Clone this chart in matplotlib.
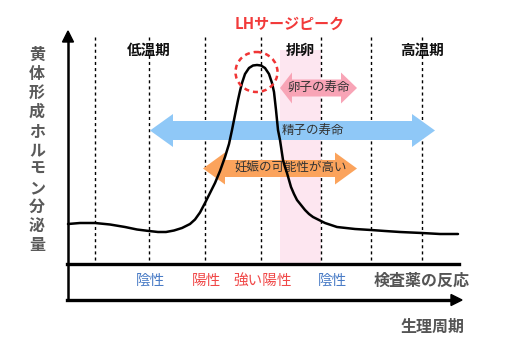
import matplotlib
matplotlib.use("Agg")
import matplotlib.pyplot as plt
from matplotlib.patches import Polygon, Rectangle, Ellipse

plt.rcParams['font.family'] = ['Noto Sans CJK JP', 'DejaVu Sans']

# ---------------- data (figure pixel units) ----------------
curve_x = [68, 80, 95, 110, 125, 137, 149, 158, 166, 174, 182, 190, 195, 200, 205, 210, 215,
           220, 225, 229, 232, 235, 238, 240, 242, 245, 249, 253, 257, 261, 265, 269, 272,
           274, 276, 278, 280, 283, 285, 287, 289, 291, 294, 297, 301, 305, 309, 313, 319,
           325, 331, 337, 346, 355, 371, 385, 400, 422, 440, 458]
curve_y = [224, 223, 223, 224.5, 227, 229.5, 231, 232, 232, 230.5, 228, 224, 219.5, 212.5,
           203, 193, 183, 171, 157, 144, 130, 115, 100, 91, 83, 74, 68, 65.5, 65, 65.5, 68,
           74, 83, 92, 110, 130, 140, 160, 167, 173, 180, 187, 194, 200, 205, 210, 214, 217,
           220, 223, 225, 227, 228, 229, 230, 231, 232, 233, 234, 234]

divider_x = [95, 149, 205, 261, 321, 371, 422]

phase_labels = ['低温期', '排卵', '高温期']
phase_x = [149, 300, 422]

arrow_labels = ['卵子の寿命', '精子の寿命', '妊娠の可能性が高い']
arrow_start = [280, 150, 203]
arrow_end = [357, 435, 357]
arrow_colors = ['#f8a4b6', '#8fc8f7', '#fba35c']

test_labels = ['陰性', '陽性', '強い陽性', '陰性']
test_x = [150, 206, 263, 332]
test_colors = ['#4a7cc6', '#f04848', '#f04848', '#4a7cc6']

y_label = '黄体形成ホルモン分泌量'

# ---------------- figure ----------------
fig = plt.figure(figsize=(5.21, 3.58), dpi=100)
ax = fig.add_axes([0, 0, 1, 1])
ax.set_xlim(0, 521)
ax.set_ylim(358, 0)
ax.axis('off')

# ovulation band
ax.add_patch(Rectangle((280, 50), 41, 214, facecolor='#fde6f0', edgecolor='none', zorder=0))

# dotted dividers
for x in divider_x:
    ax.plot([x, x], [37, 264], color='black', lw=1.0, ls=(0, (2.2, 2.2)), zorder=1)


def double_arrow(x0, x1, yc, h, H, L0, L1, color):
    pts = [(x0, yc), (x0 + L0, yc - H), (x0 + L0, yc - h), (x1 - L1, yc - h), (x1 - L1, yc - H),
           (x1, yc), (x1 - L1, yc + H), (x1 - L1, yc + h), (x0 + L0, yc + h), (x0 + L0, yc + H)]
    return Polygon(pts, closed=True, facecolor=color, edgecolor='none', zorder=2)


arrow_y = [88, 130.5, 168.5]
arrow_geo = [(8.5, 15.5, 12, 16), (9.5, 16.5, 23, 23), (8.5, 16, 22, 22)]
text_x = [319, 313, 291]
for lab, x0, x1, c, yc, g, tx in zip(arrow_labels, arrow_start, arrow_end, arrow_colors,
                                      arrow_y, arrow_geo, text_x):
    ax.add_patch(double_arrow(x0, x1, yc, g[0], g[1], g[2], g[3], c))
    ax.text(tx, yc, lab, ha='center', va='center', fontsize=9, color='#333333', zorder=3)

# curve
ax.plot(curve_x, curve_y, color='black', lw=1.8, zorder=4, solid_capstyle='round',
        solid_joinstyle='round')

# LH surge circle
ax.add_patch(Ellipse((256.5, 72), 42, 40, fill=False, edgecolor='#f03535', lw=1.8,
                     ls=(0, (2.0, 1.6)), zorder=5))
ax.text(290, 24, 'LHサージピーク', ha='center', va='center', fontsize=10.8,
        fontweight='bold', color='#f23a3a')

# phase labels
for lab, x in zip(phase_labels, phase_x):
    ax.text(x, 50, lab, ha='center', va='center', fontsize=10.5, fontweight='bold',
            color='#111111', zorder=6)

# axes lines
ax.plot([68, 68], [300, 40], color='black', lw=1.8, zorder=6)
ax.add_patch(Polygon([(68, 31), (62.5, 42), (73.5, 42)], closed=True, color='black', zorder=6))
ax.plot([67, 459], [264, 264], color='black', lw=2.4, zorder=6)
ax.plot([67, 452], [300, 300], color='black', lw=2.4, zorder=6)
ax.add_patch(Polygon([(462, 300), (451, 294.5), (451, 305.5)], closed=True, color='black', zorder=6))

# test results
for lab, x, c in zip(test_labels, test_x, test_colors):
    ax.text(x, 281, lab, ha='center', va='center', fontsize=10.5, color=c)
ax.text(422, 281, '検査薬の反応', ha='center', va='center', fontsize=11.5,
        fontweight='bold', color='#555555')
ax.text(433, 327, '生理周期', ha='center', va='center', fontsize=11.5,
        fontweight='bold', color='#555555')

# vertical y label
for i, ch in enumerate(y_label):
    ax.text(37, 55 + i * 19.0, ch, ha='center', va='center', fontsize=11.5,
            fontweight='bold', color='#5a5a5a')

fig.savefig('out.png', dpi=100)
